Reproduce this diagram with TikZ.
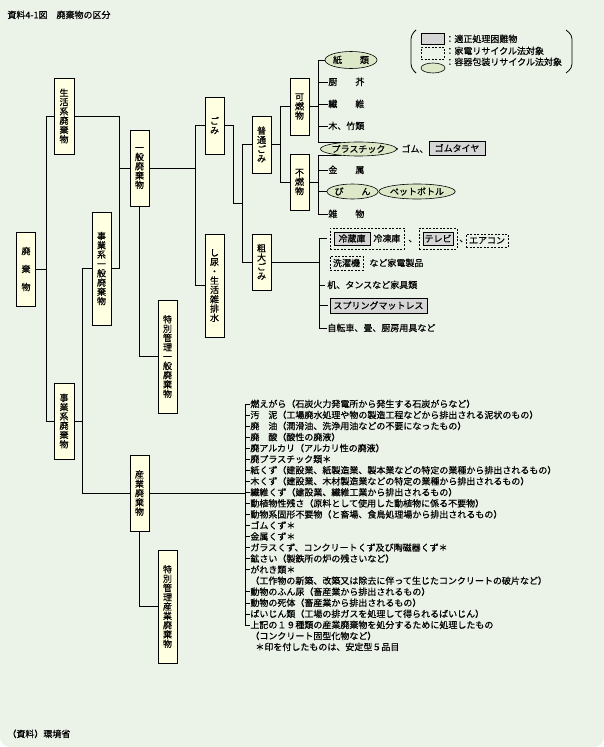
\documentclass[tikz,border=0pt]{standalone}
\usepackage{fontspec}
\setmainfont{Noto Sans CJK JP}[FakeBold=0.5]
\usetikzlibrary{shapes.geometric,fit}
\definecolor{hgrund}{HTML}{EBF3E9}
\definecolor{kastengelb}{HTML}{FFFFE1}
\definecolor{grau}{HTML}{D6D6D6}
\definecolor{ovalgruen}{HTML}{DCE8C8}

\begin{document}
\begin{tikzpicture}[x=1pt, y=-1pt, line width=0.8pt,
    font=\fontsize{9}{9.3}\selectfont,
    kasten/.style={draw, fill=kastengelb, inner sep=0pt, minimum width=19pt, align=center},
    oval/.style={draw, ellipse, fill=ovalgruen, line width=0.6pt, inner sep=0pt},
    grau/.style={draw, fill=grau, line width=0.7pt, inner sep=0pt},
    kaden/.style={draw, dash pattern=on 2pt off 1.5pt, line width=0.6pt, inner sep=3.5pt},
    eintrag/.style={anchor=west, inner sep=0pt, text height=7.8pt, text depth=1.2pt}]
    % Hintergrund
    \useasboundingbox (0,0) rectangle (604,747);
    \fill[white] (0,0) rectangle (604,747);
    \fill[hgrund, rounded corners=10pt] (0,-20) rectangle (604,747);
    % Titel und Quelle
    \node[eintrag] (titel) at (7,15) {資料4-1図　廃棄物の区分};
    \node[eintrag] (quelle) at (7,734) {（資料）環境省};
    % Legende
    \node[grau, minimum width=23pt, minimum height=11pt] (lg1) at (432.5,38.5) {};
    \node[kaden, inner sep=0pt, minimum width=23pt, minimum height=12pt] (lg2) at (432.5,53) {};
    \node[oval, minimum width=24pt, minimum height=10pt] (lg3) at (433,68) {};
    \node[eintrag] (lt1) at (445,39) {：適正処理困難物};
    \node[eintrag] (lt2) at (445,51) {：家電リサイクル法対象};
    \node[eintrag] (lt3) at (445,62) {：容器包装リサイクル法対象};
    \draw[rounded corners=4pt] (416,30) -- (411,35) -- (411,68) -- (416,73);
    \draw[rounded corners=4pt] (566,30) -- (572,35) -- (572,68) -- (566,73);
    % Kaesten
    \node[kasten, minimum height=74pt, font=\fontsize{9}{18}\selectfont] (haiki) at (26,269) {廃\\棄\\物};
    \node[kasten, minimum width=20pt, minimum height=76pt] (seikatsu) at (64,116) {生\\活\\系\\廃\\棄\\物};
    \node[kasten, minimum width=20pt, minimum height=76pt] (jigyou) at (64,421) {事\\業\\系\\廃\\棄\\物};
    \node[kasten, minimum height=113pt] (jippan) at (101.5,268.5) {事\\業\\系\\一\\般\\廃\\棄\\物};
    \node[kasten, minimum height=76pt] (ippan) at (139.5,168) {一\\般\\廃\\棄\\物};
    \node[kasten, minimum height=76pt] (sangyou) at (139.5,493) {産\\業\\廃\\棄\\物};
    \node[kasten, minimum height=113pt] (tokuippan) at (167.5,356.5) {特\\別\\管\\理\\一\\般\\廃\\棄\\物};
    \node[kasten, minimum height=113pt] (tokusangyou) at (167.5,606.5) {特\\別\\管\\理\\産\\業\\廃\\棄\\物};
    \node[kasten, minimum height=57pt] (gomi) at (214.5,125.5) {ご\\み};
    \node[kasten, minimum height=103pt] (shinyou) at (214.5,285.5) {し\\尿\\・\\生\\活\\雑\\排\\水};
    \node[kasten, minimum height=57pt] (futsuu) at (261.5,144.5) {普\\通\\ご\\み};
    \node[kasten, minimum height=56pt] (sodai) at (261.5,262) {粗\\大\\ご\\み};
    \node[kasten, minimum height=57pt] (kanen) at (299.5,106.5) {可\\燃\\物};
    \node[kasten, minimum height=56pt] (funen) at (299.5,182) {不\\燃\\物};
    % Kategorien der Hausabfaelle
    \node[oval, minimum width=52pt, minimum height=17pt] (kami) at (351,60) {紙　　類};
    \node[eintrag] (chuukai) at (328,82) {厨　　芥};
    \node[eintrag] (seni) at (328,104) {繊　　維};
    \node[eintrag] (take) at (328,126) {木、竹類};
    \node[oval, minimum width=69pt, minimum height=14pt] (pura) at (358.5,149) {プラスチック};
    \node[eintrag] (gomu) at (392,149) {・ゴム、};
    \node[grau, minimum width=56pt, minimum height=14pt] (taiya) at (457,148) {ゴムタイヤ};
    \node[eintrag] (kinzoku) at (328,170) {金　　属};
    \node[oval, minimum width=51pt, minimum height=15pt] (bin) at (352.5,191.5) {び　　ん};
    \node[inner sep=0pt] (punkt) at (380.5,191.5) {・};
    \node[oval, minimum width=68pt, minimum height=15pt] (pet) at (417,191.5) {ペットボトル};
    \node[eintrag] (zatsu) at (328,214) {雑　　物};
    % Sperrmuell
    \node[grau, minimum width=36pt, minimum height=13pt] (reizou) at (352,238.5) {冷蔵庫};
    \node[eintrag] (reitou) at (373,238.5) {冷凍庫};
    \node[kaden, fit=(reizou)(reitou)] (kaden1) {};
    \node[eintrag] (komma1) at (408,238.5) {、};
    \node[grau, minimum width=30pt, minimum height=13pt] (terebi) at (438,238.5) {テレビ};
    \node[kaden, fit=(terebi)] (kaden2) {};
    \node[eintrag] (komma2) at (459,238.5) {、};
    \node[kaden, inner sep=0pt, minimum width=42pt, minimum height=13pt] (aircon) at (487,240.5) {エアコン};
    \node[kaden, inner sep=0pt, minimum width=33pt, minimum height=14pt] (sentaku) at (346.5,263) {洗濯機};
    \node[eintrag] (kaden) at (369,263) {など家電製品};
    \node[eintrag] (kagu) at (327,285) {机、タンスなど家具類};
    \node[grau, minimum width=97pt, minimum height=15pt] (matte) at (378.5,305.5) {スプリングマットレス};
    \node[eintrag] (jitensha) at (327,328) {自転車、畳、厨房用具など};
    % Industrieabfaelle
    \foreach \t [count=\i from 0] in {
        燃えがら（石炭火力発電所から発生する石炭がらなど）,
        汚　泥（工場廃水処理や物の製造工程などから排出される泥状のもの）,
        廃　油（潤滑油、洗浄用油などの不要になったもの）,
        廃　酸（酸性の廃液）,
        廃アルカリ（アルカリ性の廃液）,
        廃プラスチック類＊,
        紙くず（建設業、紙製造業、製本業などの特定の業種から排出されるもの）,
        木くず（建設業、木材製造業などの特定の業種から排出されるもの）,
        繊維くず（建設業、繊維工業から排出されるもの）,
        動植物性残さ（原料として使用した動植物に係る不要物）,
        動物系固形不要物（と畜場、食鳥処理場から排出されるもの）,
        ゴムくず＊,
        金属くず＊,
        ガラスくず、コンクリートくず及び陶磁器くず＊,
        鉱さい（製鉄所の炉の残さいなど）,
        がれき類＊,
        （工作物の新築、改築又は除去に伴って生じたコンクリートの破片など）,
        動物のふん尿（畜産業から排出されるもの）,
        動物の死体（畜産業から排出されるもの）,
        ばいじん類（工場の排ガスを処理して得られるばいじん）,
        上記の１９種類の産業廃棄物を処分するために処理したもの,
        （コンクリート固型化物など）}
        \node[eintrag] (s\i) at (250,{404+11.05*\i}) {\t};
    \node[eintrag] (hinweis) at (255,647) {＊印を付したものは、安定型５品目};
    % Verbindungen
    \coordinate (b3) at ([xshift=-9pt]jippan.west);
    \coordinate (b6) at ([xshift=-9pt]kanen.west);
    \coordinate (b7) at ([xshift=9pt]kanen.east);
    \coordinate (b8) at ([xshift=48pt]sodai.east);
    \coordinate (b9) at (245,0);
    \coordinate (gj) at (243,203);
    \draw (haiki.east) -- ++(10,0) |- (seikatsu.west);
    \draw (haiki.east) -- ++(10,0) |- (jigyou.west);
    \draw (seikatsu.east) -| ([xshift=-10pt]ippan.west) -- (ippan.west);
    \draw (jippan.east) -| ([xshift=-10pt]ippan.west);
    \draw (jippan.west) -- (b3) |- (sangyou.west);
    \draw (jigyou.east) -- (jigyou.east -| b3);
    \draw (ippan.south) |- (tokuippan.west);
    \draw (sangyou.south) |- (tokusangyou.west);
    \draw (ippan.east) -| ([xshift=-9pt]gomi.west) -- (gomi.west);
    \draw (shinyou.west) -| ([xshift=-9pt]gomi.west);
    \draw (gomi.east) -- ++(9,0) |- (gj);
    \draw (futsuu.west) -- ++(-9,0) |- (sodai.west);
    \draw (kanen.west) -- (b6) |- (funen.west);
    \draw (futsuu.east) -- (futsuu.east -| b6);
    % brennbar
    \draw (kanen.east) -- (b7);
    \draw (kami.west) -- (kami.west -| b7) -- (b7 |- pura.160) -- (pura.160);
    \foreach \n in {chuukai,seni,take}
        \draw (b7 |- \n.west) -- (\n.west);
    % nicht brennbar
    \draw (funen.east) -- (funen.east -| b7);
    \draw (pura.200) -- (b7 |- pura.200) -- (b7 |- zatsu.west) -- (zatsu.west);
    \foreach \n in {kinzoku,bin}
        \draw (b7 |- \n.west) -- (\n.west);
    % Sperrmuell
    \draw (sodai.east) -- (b8);
    \draw ([xshift=-3pt]kaden1.west) -- (b8 |- kaden1.west) -- (b8 |- jitensha.west) -- (jitensha.west);
    \foreach \n in {kagu,matte}
        \draw (b8 |- \n.west) -- ([xshift=-2pt]\n.west);
    % Industrieabfaelle
    \draw (sangyou.east) -- (sangyou.east -| b9);
    \draw (s0.west) -- (b9 |- s0.west) -- (b9 |- s20.west) -- (s20.west);
    \foreach \i in {1,2,3,4,5,6,7,8,9,10,11,12,13,14,15,17,18,19}
        \draw (b9 |- s\i.west) -- (s\i.west);
\end{tikzpicture}
\end{document}
